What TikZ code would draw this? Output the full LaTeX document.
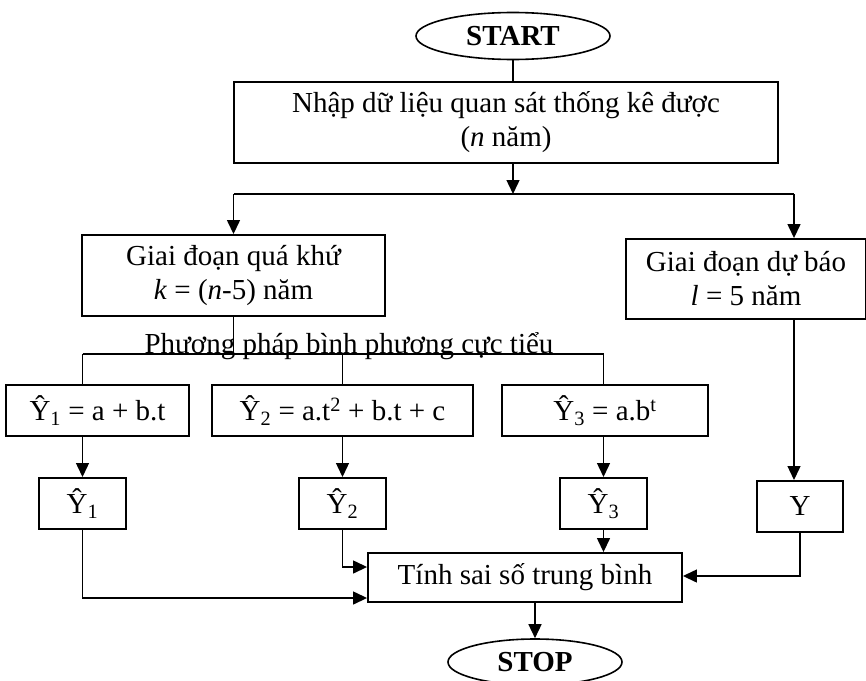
\documentclass[tikz,border=0pt]{standalone}
\usepackage{fontspec}
\setmainfont{Liberation Serif}
\usetikzlibrary{positioning,calc,shapes.geometric,arrows.meta}

\begin{document}
\begin{tikzpicture}[
		x=1pt, y=-1pt,
		box/.style={draw, line width=1.9pt, inner sep=0pt, align=center, font=\fontsize{29}{34}\selectfont},
		oval/.style={draw, ellipse, line width=1.6pt, inner sep=0pt, font=\fontsize{29}{34}\selectfont\bfseries},
		link/.style={line width=1.4pt},
		arr/.style={link, -{Triangle[length=14pt, width=13pt]}}
		]
		\useasboundingbox (0,0) rectangle (866,680);
		\clip (0,0) rectangle (866,680);
		
		% ===== phần trên =====
		\node[oval, minimum width=194pt, minimum height=47pt] (start) at (513,36) {START};
		\node[box, minimum width=544pt, minimum height=81pt] (input) at (506,122.5)
		{Nhập dữ liệu quan sát thống kê được\\(\textit{n} năm)};
		\draw[link] (start.south) -- (start.south |- input.north);
		
		\coordinate (split) at (513,194);
		\coordinate (splitL) at (233.5,194);
		\coordinate (splitR) at (794,194);
		\draw[arr] (split |- input.south) -- (split);
		\draw[link] (splitL) -- (splitR);
		
		% ===== hai giai đoạn =====
		\node[box, minimum width=303pt, minimum height=81pt] (past) at (233.5,275.5)
		{Giai đoạn quá khứ\\\textit{k} = (\textit{n}-5) năm};
		\node[box, minimum width=240pt, minimum height=80pt] (future) at (746,279)
		{Giai đoạn dự báo\\\textit{l} = 5 năm};
		\draw[arr] (splitL) -- (past.north);
		\draw[arr] (splitR) -- (splitR |- future.north);
		
		% ===== ba hàm xu thế =====
		\foreach \cx/\w/\f [count=\i from 1] in {97.5/183/{\^{Y}\textsubscript{1} = a + b.t},
			342.5/261/{\^{Y}\textsubscript{2} = a.t\textsuperscript{2} + b.t + c},
			605/206/{\^{Y}\textsubscript{3} = a.b\textsuperscript{t}}}{
			\node[box, anchor=north, minimum width=\w pt, minimum height=51pt] (F\i) at (\cx,384) {\f};
		}
		\foreach \cx [count=\i from 1] in {82.5,342.5,603.5}{
			\node[box, anchor=north, minimum width=87pt, minimum height=51pt] (S\i) at (\cx,477) {\^{Y}\textsubscript{\i}};
		}
		\node[box, anchor=north, minimum width=86pt, minimum height=51pt] (Y) at (800,480) {Y};
		
		\coordinate (bus) at (233.5,354);
		\draw[link] (past.south) -- (bus);
		\draw[link] (S1.north |- bus) -- (S3.north |- bus);
		\node[font=\fontsize{29}{34}\selectfont, anchor=base, inner sep=0pt] (method) at (349,353)
		{Phương pháp bình phương cực tiểu};
		\foreach \i in {1,2,3}{
			\draw[link] (S\i.north |- bus) -- (S\i.north |- F\i.north);
			\draw[arr] (S\i.north |- F\i.south) -- (S\i.north);
		}
		\draw[arr] (splitR |- future.south) -- (splitR |- Y.north);
		
		% ===== sai số & kết thúc =====
		\node[box, minimum width=314pt, minimum height=49pt] (calc) at (525,577.5) {Tính sai số trung bình};
		\draw[arr] (S1.south) |- ($(calc.west)+(0,20.5)$);
		\draw[arr] (S2.south) |- ($(calc.west)+(0,-10.5)$);
		\draw[arr] (S3.south) -- (S3.south |- calc.north);
		\draw[arr] (Y.south) |- ($(calc.east)+(0,-1.5)$);
		
		\node[oval, minimum width=174pt, minimum height=46pt] (stop) at (535,662) {STOP};
		\draw[arr] (calc.south -| stop.north) -- (stop.north);
		
	\end{tikzpicture}
\end{document}
